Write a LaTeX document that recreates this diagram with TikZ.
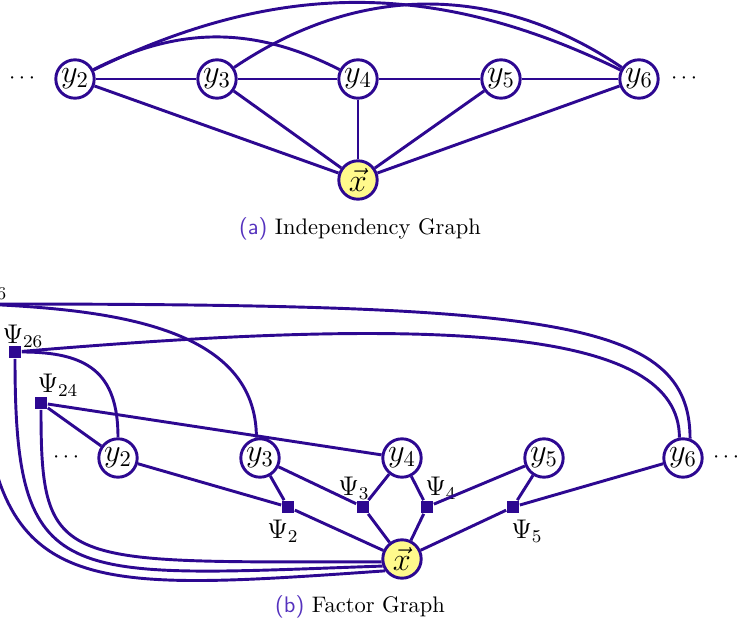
\documentclass[tikz,border=0pt]{standalone}
\usepackage{amsmath}
\usetikzlibrary{positioning,calc}
\definecolor{colorED}{RGB}{45,8,145}
\definecolor{colorCAP}{RGB}{85,50,190}
\colorlet{colorX}{yellow!45}
\tikzset{
   var/.style={circle,draw=colorED,fill=white,line width=1.3pt,minimum size=0.6cm,inner sep=0pt,font=\Large},
   obs/.style={var,fill=colorX},
   fac/.style={rectangle,fill=colorED,minimum size=0.2cm,inner sep=0pt},
   ed/.style={-,color=colorED,line width=1.3pt},
   lbl/.style={inner sep=0pt,font=\large},
}

\begin{document}
\begin{tikzpicture}[x=0.015625cm,y=0.015625cm]
      \useasboundingbox (0,0) rectangle (739,-627);
      \clip (0,0) rectangle (739,-627);

      % (a) independency graph
      \node (adl) at (24,-79) {$\cdots$};
      \node (ay2) [var] at (75,-79) {$y_2$};
      \node (ay3) [var] at (217,-79) {$y_3$};
      \node (ay4) [var] at (358,-79) {$y_4$};
      \node (ay5) [var] at (501,-79) {$y_5$};
      \node (ay6) [var] at (639,-79) {$y_6$};
      \node (adr) at (686,-79) {$\cdots$};
      \node (ax) [obs] at (358,-180) {$\vec{x}$};
      \node (capa) at (360,-229) {\textcolor{colorCAP}{\textsf{(a)}} Independency Graph};

      \draw[ed] (ay2) -- (ay3) -- (ay4) -- (ay5) -- (ay6);
      \foreach \n in {ay2,ay3,ay4,ay5,ay6}
         \draw[ed] (\n) -- (ax);
      \draw[ed] (ay2) to[bend left=27] (ay4);
      \draw[ed] (ay2) to[bend left=26] (ay6);
      \draw[ed] (ay3) to[bend left=34] (ay6);

      % (b) factor graph
      \node (bdl) at (68,-458) {$\cdots$};
      \node (by2) [var] at (118,-458) {$y_2$};
      \node (by3) [var] at (260,-458) {$y_3$};
      \node (by4) [var] at (402,-458) {$y_4$};
      \node (by5) [var] at (544,-458) {$y_5$};
      \node (by6) [var] at (683,-458) {$y_6$};
      \node (bdr) at (728,-458) {$\cdots$};
      \node (bx) [obs] at (402,-559) {$\vec{x}$};

      \node (f2) [fac] at (288,-507) {};
      \node (f3) [fac] at (363,-507) {};
      \node (f4) [fac] at (427,-507) {};
      \node (f5) [fac] at (513,-507) {};
      \node (f24) [fac] at (41,-403) {};
      \node (f26) [fac] at (15,-352) {};
      \node (f36) [fac] at (-20,-304) {};

      \node (l2) [lbl] at (283,-531) {$\Psi_2$};
      \node (l3) [lbl] at (354,-488) {$\Psi_3$};
      \node (l4) [lbl] at (441,-488) {$\Psi_4$};
      \node (l5) [lbl] at (527,-531) {$\Psi_5$};
      \node (l24) [lbl] at (58,-385) {$\Psi_{24}$};
      \node (l26) [lbl] at (23,-336) {$\Psi_{26}$};
      \node (l36) [lbl] at (-13,-288) {$\Psi_{36}$};

      \node (capb) at (360,-607) {\textcolor{colorCAP}{\textsf{(b)}} Factor Graph};

      \draw[ed] (by2) -- (f2) -- (bx);
      \draw[ed] (by3) -- (f2);
      \draw[ed] (by3) -- (f3) -- (bx);
      \draw[ed] (by4) -- (f3);
      \draw[ed] (by4) -- (f4) -- (bx);
      \draw[ed] (by5) -- (f4);
      \draw[ed] (by5) -- (f5) -- (bx);
      \draw[ed] (by6) -- (f5);

      \draw[ed] (f24) -- (by2);
      \draw[ed] (f24) -- (by4);
      \draw[ed] (f24) .. controls +(-90:167) and +(180:323) .. (bx.188);

      \draw[ed] (f26) to[out=0,in=90,looseness=1.3] (by2);
      \draw[ed] (f26) .. controls +(-90:238) and +(182:323) .. (bx.200);
      \draw[ed] (f26) .. controls +(4.85:438) and +(90:108) .. (by6.100);

      \draw[ed] (f36) .. controls +(-2.5:140) and +(90:108) .. (by3.100);
      \draw[ed] (f36) .. controls +(-90:296) and +(184:325) .. (bx.215);
      \draw[ed] (f36) .. controls +(0:570) and +(90:120) .. (by6.70);
\end{tikzpicture}
\end{document}
